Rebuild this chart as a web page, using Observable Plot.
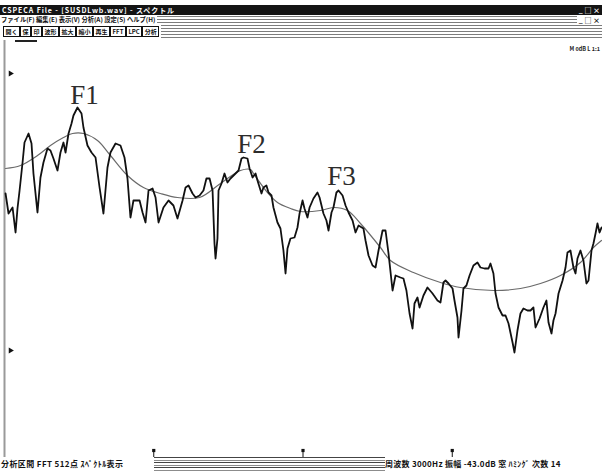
<!DOCTYPE html>
<html><head><meta charset="utf-8">
<script src="https://cdn.jsdelivr.net/npm/d3@7"></script>
<script src="https://cdn.jsdelivr.net/npm/@observablehq/plot@0.6"></script>
<style>
html,body{margin:0;padding:0;background:#fff;}
#win{position:relative;width:602px;height:472px;overflow:hidden;background:#fff;font-family:"Noto Sans CJK JP",sans-serif;}
.abs{position:absolute;white-space:nowrap;}
#title{left:0;top:5px;width:602px;height:10px;background:#141414;color:#fff;font-size:7px;line-height:10px;font-weight:bold;}
#title .t{left:2px;top:0;letter-spacing:0.9px;}
#title .c{right:2px;top:0;font-size:7px;}
#groove{left:0;top:15px;width:602px;height:25px;background:repeating-linear-gradient(to bottom,#fff 0 1px,#7c7c7c 1px 2px,#fff 2px 3px);}
#menu{left:0;top:15px;height:10px;background:#fff;font-size:6.3px;line-height:10px;font-weight:bold;color:#111;padding:0 2px 0 1px;}
#menu2{right:0;top:15px;height:10px;background:#fff;font-size:7px;line-height:10px;font-weight:bold;color:#111;padding:0 2px;}
#tool{left:0;top:25px;height:13px;background:#fff;padding:0 2px 0 3px;display:flex;gap:0;}
#tool span{display:inline-block;border:1px solid #111;height:9px;font-size:6px;line-height:9px;font-weight:bold;padding:0 1.5px;margin-top:1px;color:#111;}
#uline{left:15px;top:40px;width:22px;height:2px;background:#222;}
#chart{left:0;top:40px;}
#note{right:2px;top:45px;font-size:5.5px;font-weight:bold;color:#222;}
#sgroove{left:0;top:457px;width:602px;height:14px;background:repeating-linear-gradient(to bottom,#444 0 1px,#fff 1px 3px,#8c8c8c 3px 4px,#fff 4px 5px);}
#sl{left:0;top:457px;width:150px;height:14px;background:#fff;font-size:8px;line-height:14px;font-weight:bold;color:#111;padding:0 3px 0 1px;letter-spacing:0.4px;}
#sr{left:385px;top:457px;width:217px;height:14px;background:#fff;font-size:8px;line-height:14px;font-weight:bold;color:#111;letter-spacing:0.3px;}
</style></head>
<body>
<div id="win">
  <div id="title" class="abs"><span class="abs t">CSPECA File - [SUSDLwb.wav] - スペクトル</span><span class="abs c">_ □ ×</span></div>
  <div id="groove" class="abs"></div>
  <div id="menu" class="abs">ファイル(F) 編集(E) 表示(V) 分析(A) 設定(S) ヘルプ(H)</div>
  <div id="menu2" class="abs">_ □ ×</div>
  <div id="tool" class="abs"><span>開く</span><span>保</span><span>印</span><span>波形</span><span>拡大</span><span>縮小</span><span>再生</span><span>FFT</span><span>LPC</span><span>分析</span></div>
  <div id="uline" class="abs"></div>
  <div id="chart" class="abs"></div>
  <div id="note" class="abs">M 0dB L 1:1</div>
  <div id="sgroove" class="abs"></div>
  <div id="sl" class="abs">分析区間 FFT 512点 ｽﾍﾟｸﾄﾙ表示</div>
  <div id="sr" class="abs">周波数 3000Hz 振幅 -43.0dB 窓 ﾊﾐﾝｸﾞ 次数 14</div>
</div>
<script>
// FFT spectrum (Hz, dB)
const traceHz = [7,27,54,74,87,101,121,134,161,181,194,221,241,261,288,308,328,355,375,395,
409,429,449,462,489,516,529,556,583,610,637,663,690,710,744,777,804,824,844,864,
884,905,925,945,965,992,1012,1032,1065,1099,1132,1159,1193,1213,1233,1260,1280,1307,
1333,1353,1374,1394,1407,1414,1427,1434,1454,1474,
1494,1514,1548,1568,1588,1601,1628,1642,1662,1682,
1695,1722,1735,1755,1769,1789,1802,1829,1849,1869,
1883,1896,1916,1943,1963,1977,1997,2010,2030,2044,
2070,2097,2111,2137,2157,2171,2191,2204,2224,2238,
2265,2285,2305,2332,2352,2372,2405,2419,2439,2466,
2486,2506,2533,2553,2573,2600,2620,2653,2673,2693,
2714,2734,2747,2767,2781,2807,2834,2868,2901,2921,
2941,2955,2975,3002,3015,3035,3042,3062,3075,3095,
3116,3142,3169,3189,3216,3243,3256,3276,3290,3310,
3337,3357,3377,3404,3417,3437,3457,3477,3504,3524,
3544,3558,3585,3611,3631,3645,3665,3678,3692,3712,
3739,3759,3772,3792,3812,3826,3839,3859,3879,3899,
3913,3933,3946,3960,3973,3987,4000];
const traceDb = [-24,-28,-26.8,-31.8,-27,-23.4,-17.8,-13.8,-12,-14,
-20,-27.8,-20.8,-17.8,-15,-15.4,-17,-19.4,-15.8,-13.8,
-15.8,-12,-10,-8.4,-6.8,-8,-10.8,-14.4,-15.8,-16.8,
-22.8,-28,-18.8,-15.8,-14,-14.4,-16.8,-21,-28.8,-25.4,
-25.4,-25.4,-27.8,-29.8,-23.4,-23,-24.8,-29.8,-26.8,-25.4,
-26.4,-29,-25.4,-22.8,-22.4,-24,-24.8,-24.4,
-23.4,-21,-21,-23.4,-34,-37,-33,-23.4,-22,-20,
-21.8,-21,-20,-19.4,-17,-16.8,-17,-19,-20.8,-20,
-21.4,-24,-22.8,-22.4,-23.8,-24.4,-26.8,-29.8,-31,-35.4,
-40,-35,-33,-32.8,-30.8,-28,-25.4,-27,-28.8,-26.8,
-25,-23.8,-24.8,-28,-29.4,-31.4,-27.8,-26.8,-23.8,-23.4,
-24.4,-26.4,-27.8,-29.4,-31.8,-30.4,-31,-33.4,-36.4,-38.4,
-38.8,-35.4,-31.4,-31.4,-36,-43.4,-40.4,-40.8,-41,-43.4,
-48,-51,-46,-44.8,-46.8,-44.4,-42.8,-44,-45.4,-45.8,
-41.8,-41.4,-42,-43,-45.4,-48.8,-52.8,-47.4,-43,-42.4,
-40.4,-38.4,-37.8,-38.8,-39,-39,-38,-40,-44,-46.8,
-48.4,-48.4,-50,-53.8,-55.8,-51.4,-48,-47,-47.4,-47.4,
-46.8,-50.8,-49,-46.8,-45.4,-49.8,-52,-49.4,-48,-44,
-41.4,-38.8,-35.8,-35.4,-38.8,-40,-37,-35.4,-37.4,-42,
-41.4,-35.4,-34,-32,-30,-31.8,-30.8];

// LPC envelope (Hz, dB)
const envHz = [7,107,221,308,395,456,529,623,710,824,931,1045,1159,1307,1447,1581,1648,1668,1762,1829,
1916,1983,2117,2204,2298,2385,2519,2586,2740,2921,3055,3276,3457,3591,3725,3859,3946,4000];
const envDb = [-19,-18.4,-16.4,-14.4,-12.8,-12,-12,-13.4,-16.4,-20.4,-22.8,-24,-24.8,-24.8,-22,-19.4,-19.2,-20,-23.8,-25.8,
-27,-27.6,-27.4,-26.8,-27.4,-30,-34.8,-37.4,-39.8,-41.8,-42.8,-43.4,-43,-42,-40.4,-37.8,-34.8,-33.4];

// formant labels
const formantNames = ["F1","F2","F3"];
const formantHz = [536,1655,2258];
const formantDb = [-6,-15.8,-22.2];

// frequency ticks (Hz) and level markers (dB)
const freqTicks = [1000,2000,3000];
const levelMarks = [0,-55.4];

const trace = traceHz.map((hz,i)=>({hz, db: traceDb[i]}));
const env = envHz.map((hz,i)=>({hz, db: envDb[i]}));
const formants = formantNames.map((name,i)=>({name, hz: formantHz[i], db: formantDb[i]}));

const chart = Plot.plot({
  width: 602, height: 417,
  margin: 0,
  style: {background: "transparent", overflow: "visible"},
  x: {domain: [0, 4000], range: [4, 601], axis: null},
  y: {domain: [-60, 0], range: [333, 33], axis: null},
  marks: [
    Plot.ruleX([0], {stroke: "#9a9a9a", strokeWidth: 2}),
    Plot.line(env, {x: "hz", y: "db", stroke: "#6a6a6a", strokeWidth: 1.2, curve: "catmull-rom"}),
    Plot.line(trace, {x: "hz", y: "db", stroke: "#111", strokeWidth: 1.8}),
    Plot.text(formants, {x: "hz", y: "db", text: "name", fontFamily: "Liberation Serif", fontSize: 27, lineAnchor: "bottom", fill: "#2c2c2c"}),
    Plot.dot(levelMarks, {x: 40, y: d => d, symbol: "triangle", rotate: 90, r: 2.2, fill: "#111", stroke: "none"}),
    Plot.ruleX(freqTicks, {x: d => d, y1: -75.4, y2: -77, stroke: "#111", strokeWidth: 1}),
    Plot.dot(freqTicks, {x: d => d, y: -75.4, symbol: "square", r: 1.8, fill: "#111", stroke: "none"})
  ]
});
document.getElementById("chart").appendChild(chart);
</script>
</body></html>
